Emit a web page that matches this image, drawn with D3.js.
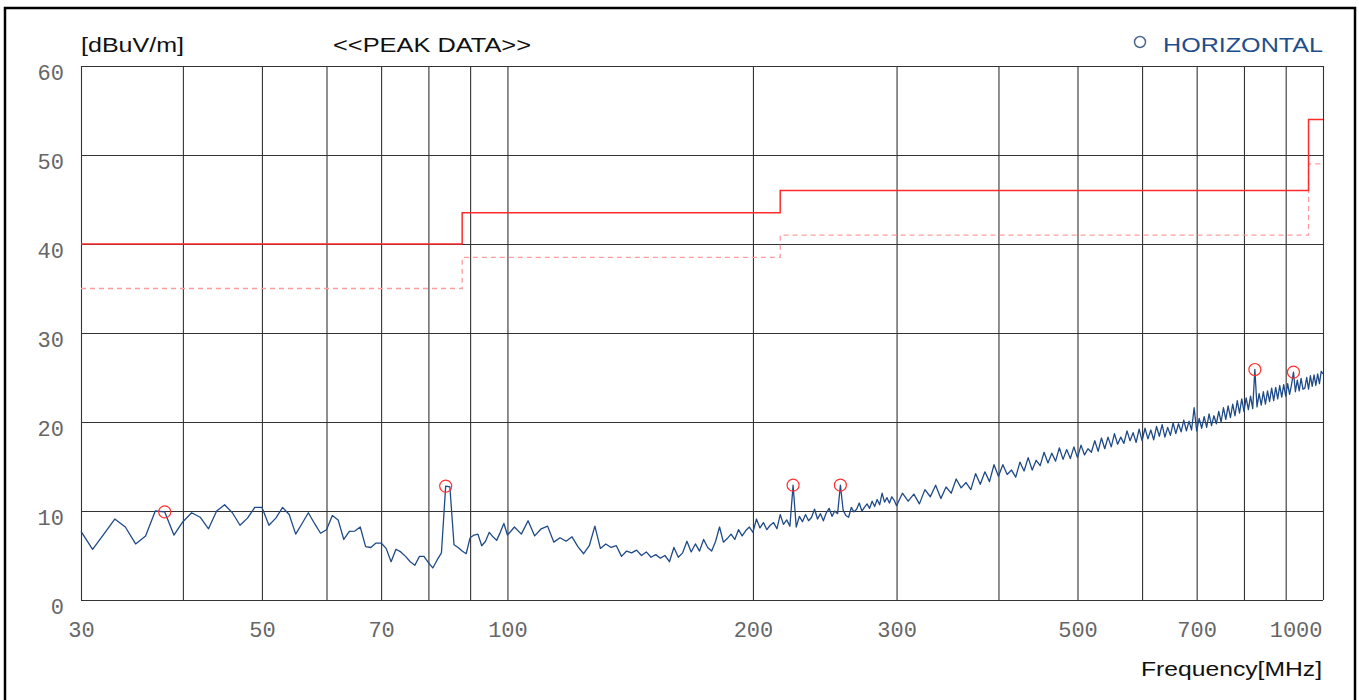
<!DOCTYPE html>
<html>
<head>
<meta charset="utf-8">
<script src="https://cdn.jsdelivr.net/npm/d3@7"></script>
<style>
  html, body { margin: 0; padding: 0; background: #fff; }
  svg { display: block; }
</style>
</head>
<body>
<svg id="chart" width="1359" height="700"></svg>
<script>
// ---------------- DATA ----------------
const unitLabel = "[dBuV/m]";
const titleLabel = "<<PEAK DATA>>";
const legendLabel = "HORIZONTAL";
const xAxisLabel = "Frequency[MHz]";

const xGridTicks = [30, 40, 50, 60, 70, 80, 90, 100, 200, 300, 400, 500, 600, 700, 800, 900, 1000];
const xTickLabels = [30, 50, 70, 100, 200, 300, 500, 700, 1000];
const yTicks = [0, 10, 20, 30, 40, 50, 60];

// Limit lines (step after each start frequency)
const limitFreq = [30, 88, 216, 960, 1000];
const limitLevel = [40, 43.5, 46, 54, 54];
const marginLevel = [35, 38.5, 41, 49, 49];

// Sweep: low band 30..100 MHz (1 MHz step)
const lowStart = 30, lowStep = 1;
const lowLevels = [
  7.7, 5.7, 7.4, 9.1, 8.2, 6.3, 7.2, 10.0, 9.9, 7.3,
  8.8, 9.8, 9.3, 8.0, 10.0, 10.7, 9.8, 8.4, 9.2, 10.4,
  10.4, 8.4, 9.2, 10.4, 9.6, 7.4, 8.6, 9.8, 8.6, 7.5,
  7.9, 9.5, 9.0, 6.8, 7.7, 7.75, 8.2, 6.0, 5.9, 6.4,
  6.4, 5.8, 4.3, 5.7, 5.4, 4.9, 4.3, 3.9, 4.9, 4.9,
  4.2, 3.6, 4.5, 5.3, 12.8, 12.7, 6.2, 5.9, 5.5, 5.2,
  7.0, 7.3, 7.4, 6.1, 6.6, 7.6, 7.1, 6.7, 7.6, 8.6,
  7.3
];
// Mid band 102..298 MHz (2 MHz step)
const midStart = 102, midStep = 2;
const midLevels = [
  8.2, 7.4, 8.9, 7.2, 8.0, 8.3, 6.5, 7.0, 6.6, 7.1,
  6.0, 5.2, 6.1, 8.3, 5.8, 6.3, 5.9, 6.1, 4.9, 5.5,
  5.3, 5.6, 5.0, 5.4, 4.8, 5.1, 4.7, 5.0, 4.3, 5.9,
  4.8, 5.3, 6.6, 5.4, 6.3, 5.5, 6.8, 5.9, 5.5, 6.6,
  8.2, 6.5, 6.9, 7.4, 6.8, 7.9, 7.2, 7.8, 8.2, 7.6,
  9.1, 8.1, 8.7, 7.9, 8.4, 8.7, 8.0, 9.6, 8.5, 9.0,
  8.3, 12.9, 8.2, 9.4, 8.8, 9.6, 8.9, 9.3, 10.2, 9.1,
  9.7, 8.9, 9.8, 10.3, 9.4, 10.0, 9.7, 12.9, 10.1, 9.5,
  9.3, 10.4, 9.9, 10.2, 10.9, 10.0, 10.4, 10.8, 10.3, 11.1,
  10.5, 11.3, 10.7, 12.0, 11.0, 11.5, 10.9, 11.6, 11.2
];
// High band 300..1000 MHz (5 MHz step)
const highStart = 300, highStep = 5;
const highLevels = [
  10.6, 12.0, 11.1, 11.9, 10.8, 12.4, 11.6, 12.9, 11.4, 12.7,
  12.0, 13.6, 12.6, 13.2, 12.4, 14.2, 13.0, 14.4, 13.3, 15.2,
  13.9, 15.2, 14.1, 14.6, 13.8, 15.5, 14.5, 16.0, 14.6, 15.7,
  15.1, 16.6, 15.4, 16.5, 15.6, 17.1, 15.8, 16.9, 15.9, 17.2,
  16.0, 17.4, 16.3, 17.0, 16.6, 17.9, 16.7, 18.2, 17.0, 18.3,
  17.2, 18.7, 17.5, 18.3, 17.6, 19.0, 17.9, 18.8, 17.7, 19.2,
  17.9, 19.3, 18.1, 19.1, 18.0, 19.5, 18.4, 19.7, 18.3, 19.4,
  18.5, 19.9, 18.7, 19.8, 18.9, 20.2, 19.0, 20.1, 19.1, 21.6,
  19.0, 20.4, 19.3, 20.6, 19.4, 20.9, 19.6, 20.7, 19.8, 21.2,
  20.0, 21.6, 20.3, 21.8, 20.5, 22.0, 20.7, 22.4, 21.0, 22.6,
  21.2, 22.7, 21.4, 22.9, 21.5, 25.9, 21.7, 23.2, 21.9, 23.4,
  22.0, 23.5, 22.3, 23.8, 22.4, 23.9, 22.6, 24.1, 22.8, 24.2,
  22.9, 24.3, 23.1, 24.2, 25.6, 23.4, 24.7, 23.5, 24.9, 23.7,
  23.8, 25.0, 23.7, 25.2, 24.0, 25.3, 24.1, 25.4, 24.3, 25.7,
  25.4
];

// Peak markers
const peakFreq = [38, 84, 224, 256, 825, 920];
const peakLevel = [9.9, 12.8, 12.9, 12.9, 25.9, 25.6];

// ---------------- BUILD ----------------
function band(start, step, levels) {
  return levels.map((v, i) => ({ f: start + i * step, v: v }));
}
const trace = [].concat(
  band(lowStart, lowStep, lowLevels),
  band(midStart, midStep, midLevels),
  band(highStart, highStep, highLevels)
);

const svg = d3.select("#chart");
const plotLeft = 81, plotRight = 1323, plotTop = 66, plotBottom = 600;

const x = d3.scaleLog().domain([30, 1000]).range([plotLeft, plotRight]);
const y = d3.scaleLinear().domain([0, 60]).range([plotBottom, plotTop]);

// Outer frame
svg.append("rect")
  .attr("x", 5).attr("y", 8).attr("width", 1350).attr("height", 700)
  .attr("fill", "none").attr("stroke", "#000").attr("stroke-width", 2.5);

// Grid via axes
const gridColor = "#333";
const gx = svg.append("g").attr("transform", `translate(0,${plotBottom})`)
  .call(d3.axisBottom(x).tickValues(xGridTicks).tickSize(-(plotBottom - plotTop)).tickFormat(""));
gx.select(".domain").remove();
gx.selectAll(".tick line").attr("stroke", gridColor).attr("stroke-width", 1.1);

const gy = svg.append("g").attr("transform", `translate(${plotLeft},0)`)
  .call(d3.axisLeft(y).tickValues(yTicks).tickSize(-(plotRight - plotLeft)).tickFormat(""));
gy.select(".domain").remove();
gy.selectAll(".tick line").attr("stroke", gridColor).attr("stroke-width", 1.1);

// Tick labels
const labelFont = "'Liberation Mono', 'DejaVu Sans Mono', monospace";
const xl = svg.append("g").attr("transform", `translate(0,${plotBottom})`)
  .call(d3.axisBottom(x).tickValues(xTickLabels).tickSize(0).tickPadding(0).tickFormat(d3.format("d")));
xl.select(".domain").remove();
xl.selectAll("text")
  .attr("y", 37).attr("dy", null)
  .attr("font-family", labelFont).attr("font-size", 22)
  .attr("fill", "#666")
  .attr("text-anchor", d => d === 1000 ? "end" : "middle")
  .attr("x", d => d === 1000 ? -1 : 0);

const yl = svg.append("g").attr("transform", `translate(64,0)`)
  .call(d3.axisLeft(y).tickValues(yTicks).tickSize(0).tickPadding(0).tickFormat(d3.format("d")));
yl.select(".domain").remove();
yl.selectAll("text")
  .attr("dy", null).attr("y", 13)
  .attr("font-family", labelFont).attr("font-size", 22)
  .attr("fill", "#666").attr("text-anchor", "end");

// Limit lines
const limitPts = limitFreq.map((f, i) => ({ f: f, v: limitLevel[i] }));
const marginPts = limitFreq.map((f, i) => ({ f: f, v: marginLevel[i] }));
const stepLine = d3.line().x(d => x(d.f)).y(d => y(d.v)).curve(d3.curveStepAfter);

svg.append("path").attr("d", stepLine(marginPts))
  .attr("fill", "none").attr("stroke", "#ff9d9d").attr("stroke-width", 1.3)
  .attr("stroke-dasharray", "5,4");
svg.append("path").attr("d", stepLine(limitPts))
  .attr("fill", "none").attr("stroke", "#ff2b2b").attr("stroke-width", 1.5);

// Trace
const line = d3.line().x(d => x(d.f)).y(d => y(d.v));
svg.append("path").attr("d", line(trace))
  .attr("fill", "none").attr("stroke", "#1f4a88").attr("stroke-width", 1.3)
  .attr("stroke-linejoin", "round");

// Peak markers
svg.append("g").selectAll("circle")
  .data(peakFreq.map((f, i) => ({ f: f, v: peakLevel[i] })))
  .join("circle")
  .attr("cx", d => x(d.f)).attr("cy", d => y(d.v)).attr("r", 6)
  .attr("fill", "none").attr("stroke", "#ff3030").attr("stroke-width", 1.2);

// Texts
const sans = "'Liberation Sans', Arial, sans-serif";
svg.append("text").text(unitLabel)
  .attr("x", 81).attr("y", 52)
  .attr("font-family", sans).attr("font-size", 21).attr("fill", "#111")
  .attr("textLength", 103).attr("lengthAdjust", "spacingAndGlyphs");
svg.append("text").text(titleLabel)
  .attr("x", 333).attr("y", 52)
  .attr("font-family", sans).attr("font-size", 21).attr("fill", "#111")
  .attr("textLength", 198).attr("lengthAdjust", "spacingAndGlyphs");

svg.append("circle").attr("cx", 1140).attr("cy", 42).attr("r", 5.5)
  .attr("fill", "none").attr("stroke", "#4d6890").attr("stroke-width", 1.5);
svg.append("text").text(legendLabel)
  .attr("x", 1163).attr("y", 52)
  .attr("font-family", sans).attr("font-size", 21).attr("fill", "#1f4e8c")
  .attr("textLength", 160).attr("lengthAdjust", "spacingAndGlyphs");

svg.append("text").text(xAxisLabel)
  .attr("x", 1322).attr("y", 676).attr("text-anchor", "end")
  .attr("font-family", sans).attr("font-size", 21).attr("fill", "#111")
  .attr("textLength", 181).attr("lengthAdjust", "spacingAndGlyphs");
</script>
</body>
</html>
